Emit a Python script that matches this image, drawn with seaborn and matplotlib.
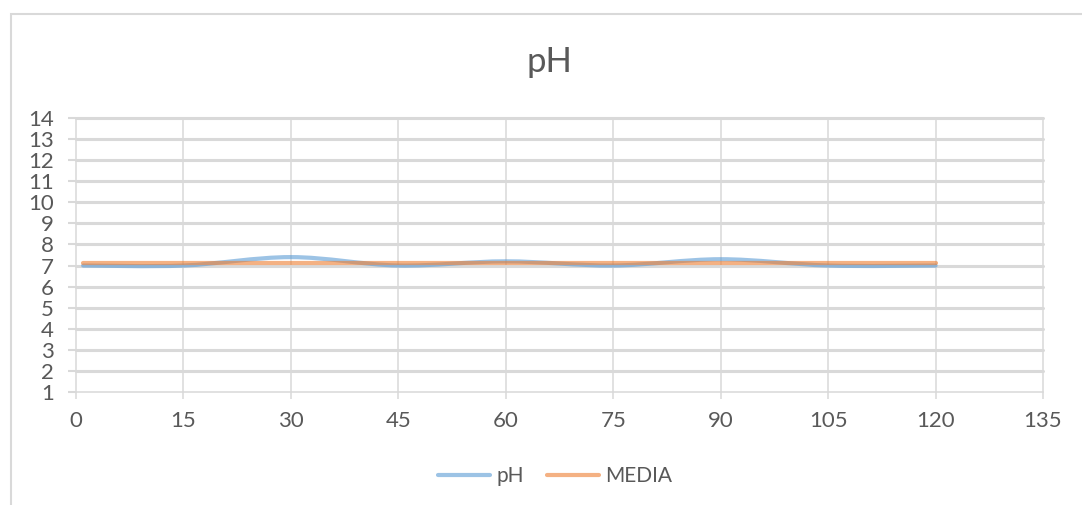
import numpy as np
import pandas as pd
import seaborn as sns
import matplotlib.pyplot as plt
from matplotlib.path import Path
from matplotlib.patches import PathPatch, Rectangle
from matplotlib.lines import Line2D

# Sampling times (minutes) and measured values
minutes = [1, 15, 30, 45, 60, 75, 90, 105, 120]
ph_values = [7.0, 7.0, 7.4, 7.0, 7.2, 7.0, 7.3, 7.0, 7.0]
media_values = [7.1, 7.1, 7.1, 7.1, 7.1, 7.1, 7.1, 7.1, 7.1]

x_ticks = [0, 15, 30, 45, 60, 75, 90, 105, 120, 135]
y_ticks = list(range(1, 15))

BLUE = "#5B9BD5"
ORANGE = "#ED7D31"
GRID = "#D9D9D9"
TEXT = "#595959"

sns.set_theme(style="white")
plt.rcParams["font.family"] = ["Lato", "DejaVu Sans"]

df = pd.DataFrame({"min": minutes, "pH": ph_values, "MEDIA": media_values})

W, H = 1082, 505
fig = plt.figure(figsize=(W / 100, H / 100), dpi=100)
fig.patch.set_facecolor("white")

# outer chart frame
fig.patches.append(Rectangle((10.5 / W, -0.2), 1.5, (H - 13.5) / H + 0.2,
                             transform=fig.transFigure, fill=False,
                             edgecolor=GRID, linewidth=1.5, zorder=0))

ax = fig.add_axes([76 / W, 1 - 392 / H, 967 / W, 274 / H])
ax.set_xlim(x_ticks[0], x_ticks[-1])
ax.set_ylim(y_ticks[0], y_ticks[-1])

# gridlines
for yv in y_ticks[1:]:
    ax.axhline(yv, color=GRID, lw=2.2, zorder=0, clip_on=False)
for xv in x_ticks[1:]:
    ax.axvline(xv, color=GRID, lw=1.1, zorder=0, clip_on=False)

# smoothed pH curve (cubic Bezier segments through the measured points)
pts = np.column_stack([df["min"].to_numpy(float), df["pH"].to_numpy(float)])
n = len(pts)
verts = [tuple(pts[0])]
codes = [Path.MOVETO]
for i in range(n - 1):
    p0 = pts[max(i - 1, 0)]
    p1 = pts[i]
    p2 = pts[i + 1]
    p3 = pts[min(i + 2, n - 1)]
    c1 = p1 + (p2 - p0) / 6.0
    c2 = p2 - (p3 - p1) / 6.0
    verts += [tuple(c1), tuple(c2), tuple(p2)]
    codes += [Path.CURVE4, Path.CURVE4, Path.CURVE4]
ax.add_patch(PathPatch(Path(verts, codes), facecolor="none", edgecolor=BLUE,
                       alpha=0.6, lw=3, capstyle="round", zorder=3))

# average line
sns.lineplot(data=df, x="min", y="MEDIA", color=ORANGE, alpha=0.6, lw=3,
             ax=ax, zorder=4, legend=False)

ax.set_xticks(x_ticks)
ax.set_yticks(y_ticks)
ax.set_xticklabels([str(v) for v in x_ticks])
ax.set_yticklabels([str(v) for v in y_ticks])
ax.set_xlabel("")
ax.set_ylabel("")
ax.tick_params(axis="x", direction="out", length=5, width=1.1, color=GRID,
               labelcolor=TEXT, labelsize=16, pad=9, bottom=True)
ax.tick_params(axis="y", direction="out", length=6, width=1.5, color=GRID,
               labelcolor=TEXT, labelsize=16, pad=10, left=True)

for side in ["top", "right"]:
    ax.spines[side].set_visible(False)
for side in ["left", "bottom"]:
    ax.spines[side].set_color(GRID)
    ax.spines[side].set_linewidth(1.1)

fig.text(549 / W, 1 - 62 / H, "pH", ha="center", va="center",
         fontsize=25, color=TEXT)

handles = [Line2D([], [], color=BLUE, alpha=0.6, lw=3, solid_capstyle="round"),
           Line2D([], [], color=ORANGE, alpha=0.6, lw=3, solid_capstyle="round")]
fig.legend(handles, ["pH", "MEDIA"], loc="center", bbox_to_anchor=(555 / W, 1 - 476 / H),
           ncol=2, frameon=False, fontsize=15, labelcolor=TEXT,
           handlelength=2.5, handletextpad=0.3, columnspacing=1.1)

fig.savefig("out.png", dpi=100, facecolor="white")
